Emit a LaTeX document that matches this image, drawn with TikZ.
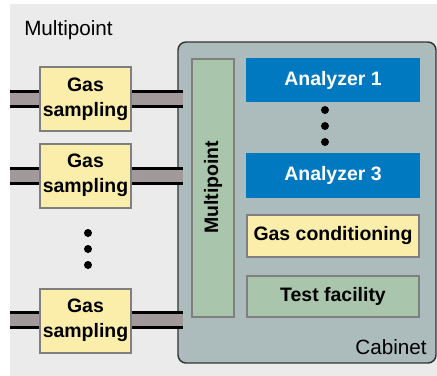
\documentclass[tikz,border=0pt]{standalone}
\usepackage{fontspec}
\setmainfont{Liberation Sans}
\definecolor{bggray}{HTML}{EBEBEB}
\definecolor{cabfill}{HTML}{ACBCBC}
\definecolor{cabdraw}{HTML}{333333}
\definecolor{greenfill}{HTML}{A9C5AB}
\definecolor{yellowfill}{HTML}{FBEEAB}
\definecolor{bluefill}{HTML}{0079C1}
\definecolor{boxdraw}{HTML}{7F7F7F}
\definecolor{pipegray}{HTML}{A29A9A}
\tikzset{
  x=0.75pt, y=-0.75pt,
  boxtext/.style={font=\fontsize{14.6}{19}\selectfont\bfseries, align=center, inner sep=0pt},
  gasbox/.style={boxtext, draw=boxdraw, line width=1.5pt, fill=yellowfill, minimum width=68.25pt, minimum height=48pt},
  anabox/.style={boxtext, fill=bluefill, text=white, minimum width=130.5pt, minimum height=33.5pt},
  condbox/.style={boxtext, draw=boxdraw, line width=1.5pt, fill=yellowfill, minimum width=129pt, minimum height=32pt},
  testbox/.style={boxtext, draw=boxdraw, line width=1.5pt, fill=greenfill, minimum width=129pt, minimum height=31pt},
  pipe/.style={draw=black, line width=2.25pt, double=pipegray, double distance=9pt, line cap=butt},
  dotmark/.style={circle, fill=black, inner sep=0pt, minimum size=6pt},
  plainlabel/.style={font=\fontsize{15.5}{18}\selectfont, inner sep=0pt}
}
\begin{document}
\begin{tikzpicture}
\useasboundingbox (0,0) rectangle (437,376);
\fill[bggray] (10,4) rectangle (437,376);
% cabinet
\draw[cabdraw, fill=cabfill, line width=1.1pt, rounded corners=6pt] (178,42) rectangle (436,363);
\node[plainlabel, anchor=base west] (mplabel) at (24,35) {Multipoint};
\node[plainlabel, anchor=base east] (cablabel) at (427,354) {Cabinet};
% pipe ends
\coordinate (in1) at (10,99);
\coordinate (out1) at (183,99);
\coordinate (in2) at (10,175.5);
\coordinate (out2) at (183,175.5);
\coordinate (in3) at (10,320);
\coordinate (out3) at (183,320);
\draw[pipe] (in1) -- (out1);
\draw[pipe] (in2) -- (out2);
\draw[pipe] (in3) -- (out3);
% gas sampling boxes
\node[gasbox] (g1) at (85.5,99) {Gas\\sampling};
\node[gasbox] (g2) at (85.5,175.5) {Gas\\sampling};
\node[gasbox] (g3) at (85.5,320.5) {Gas\\sampling};
\node[dotmark] (ld1) at (88,233) {};
\node[dotmark] (ld2) at (88,249) {};
\node[dotmark] (ld3) at (88,265) {};
% multipoint
\node[draw=boxdraw, line width=1.5pt, fill=greenfill, minimum width=31.5pt, minimum height=193.5pt, inner sep=0pt] (mp) at (213,188) {};
\node[boxtext, rotate=90] (mptext) at (213,187.5) {Multipoint};
% analyzers
\node[anabox] (a1) at (333,80) {Analyzer 1};
\node[anabox] (a3) at (333,175.5) {Analyzer 3};
\node[dotmark] (rd1) at (325,110) {};
\node[dotmark] (rd2) at (325,126) {};
\node[dotmark] (rd3) at (325,142) {};
\node[condbox] (gc) at (333,236) {Gas conditioning};
\node[testbox] (tf) at (333,296.5) {Test facility};
\end{tikzpicture}
\end{document}
